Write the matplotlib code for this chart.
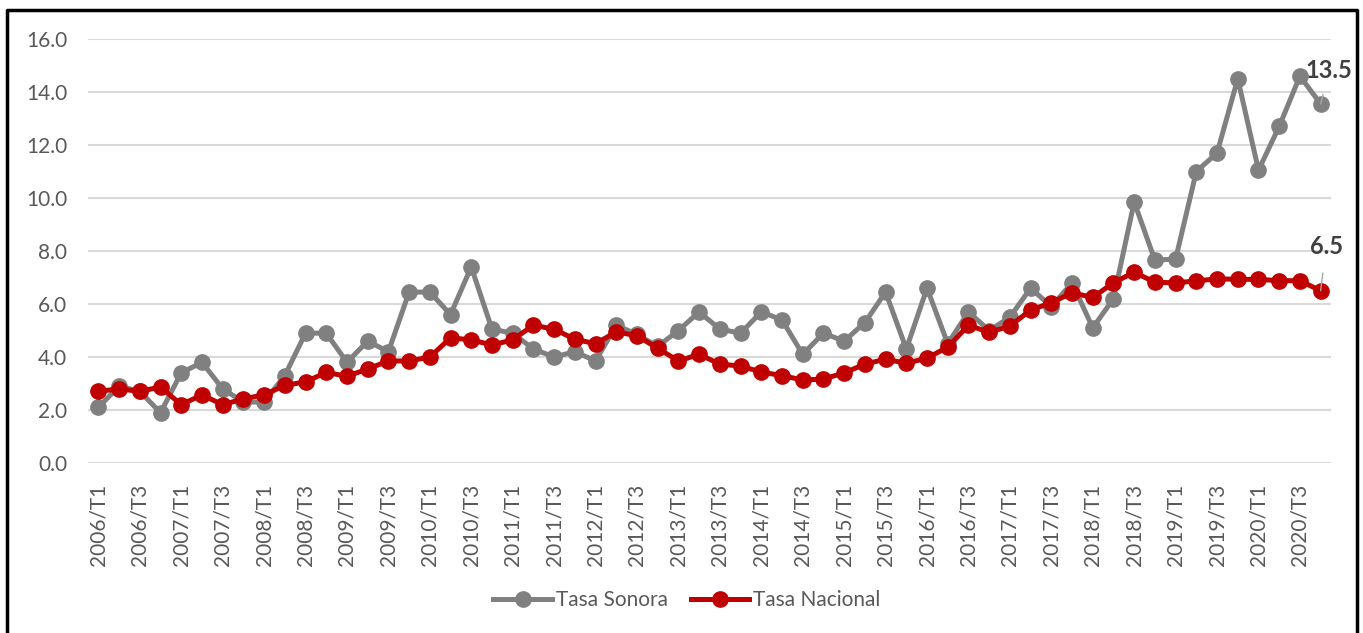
import matplotlib
matplotlib.use("Agg")
import matplotlib.pyplot as plt
from matplotlib.lines import Line2D

plt.rcParams["font.family"] = ["Lato", "DejaVu Sans"]

# Quarters 2006/T1 .. 2020/T4
years = list(range(2006, 2021))
quarters = [f"{y}/T{q}" for y in years for q in range(1, 5)]

tasa_sonora = [
    2.1, 2.9, 2.7, 1.9, 3.4, 3.8, 2.8, 2.3, 2.3, 3.3, 4.9, 4.9, 3.8, 4.6, 4.2, 6.45,
    6.45, 5.6, 7.4, 5.05, 4.9, 4.3, 4.0, 4.2, 3.85, 5.2, 4.85, 4.4, 5.0, 5.7, 5.05, 4.9,
    5.7, 5.4, 4.1, 4.9, 4.6, 5.3, 6.45, 4.3, 6.6, 4.5, 5.7, 5.0, 5.5, 6.6, 5.9, 6.8,
    5.1, 6.2, 9.85, 7.65, 7.7, 11.0, 11.7, 14.5, 11.05, 12.7, 14.6, 13.55,
]
tasa_nacional = [
    2.7, 2.8, 2.7, 2.87, 2.2, 2.57, 2.2, 2.42, 2.57, 2.93, 3.06, 3.42, 3.27, 3.55, 3.85, 3.85,
    4.0, 4.72, 4.65, 4.45, 4.65, 5.2, 5.05, 4.67, 4.5, 4.95, 4.8, 4.33, 3.85, 4.1, 3.73, 3.66,
    3.43, 3.3, 3.13, 3.17, 3.4, 3.73, 3.92, 3.76, 3.96, 4.37, 5.2, 4.93, 5.17, 5.77, 6.05, 6.42,
    6.25, 6.8, 7.2, 6.82, 6.8, 6.87, 6.95, 6.93, 6.93, 6.88, 6.88, 6.5,
]

grey = "#808080"
red = "#C00000"
text_col = "#595959"

fig = plt.figure(figsize=(13.63, 6.33), dpi=100)
ax = fig.add_axes([88 / 1363, 170 / 633, (1331 - 88) / 1363, (463 - 39) / 633])

x = list(range(len(quarters)))
ax.plot(x, tasa_sonora, color=grey, lw=3.6, marker="o", markersize=11, label="Tasa Sonora",
        solid_joinstyle="round")
ax.plot(x, tasa_nacional, color=red, lw=3.6, marker="o", markersize=11, label="Tasa Nacional",
        solid_joinstyle="round")

ax.set_xlim(-0.5, len(quarters) - 0.5)
ax.set_ylim(0, 16)
ax.set_yticks(range(0, 17, 2))
ax.set_yticklabels([f"{v:.1f}" for v in range(0, 17, 2)])
ax.set_xticks(x[::2])
ax.set_xticklabels(quarters[::2], rotation=90)
ax.tick_params(axis="both", length=0, labelsize=15, colors=text_col)
ax.tick_params(axis="y", pad=15)
ax.tick_params(axis="x", pad=15)
ax.grid(axis="y", color="#D9D9D9", lw=1.5)
ax.set_axisbelow(True)
for s in ax.spines.values():
    s.set_visible(False)

# last value labels
ax.annotate(f"{13.5:.1f}", xy=(x[-1], tasa_sonora[-1]), xytext=(6, 24), textcoords="offset points",
            ha="center", va="center", fontsize=17, fontweight="bold", color="#404040",
            arrowprops=dict(arrowstyle="-", color="#A6A6A6", lw=1, shrinkA=7, shrinkB=0))
ax.annotate(f"{tasa_nacional[-1]:.1f}", xy=(x[-1], tasa_nacional[-1]), xytext=(4, 32),
            textcoords="offset points", ha="center", va="center", fontsize=17,
            fontweight="bold", color="#404040",
            arrowprops=dict(arrowstyle="-", color="#A6A6A6", lw=1, shrinkA=9, shrinkB=0))

fig.legend(loc="center", bbox_to_anchor=(687 / 1363, 1 - 600 / 633), ncol=2, frameon=False,
           fontsize=15, labelcolor=text_col, handlelength=2.8, handletextpad=0.2,
           columnspacing=1.1)

# outer chart frame (left, top, right)
fig.add_artist(Line2D([7 / 1363, 7 / 1363, 1357 / 1363, 1357 / 1363],
                      [0, 1 - 10 / 633, 1 - 10 / 633, 0], color="black", lw=2.5,
                      transform=fig.transFigure))

plt.savefig("out.png", dpi=100)
